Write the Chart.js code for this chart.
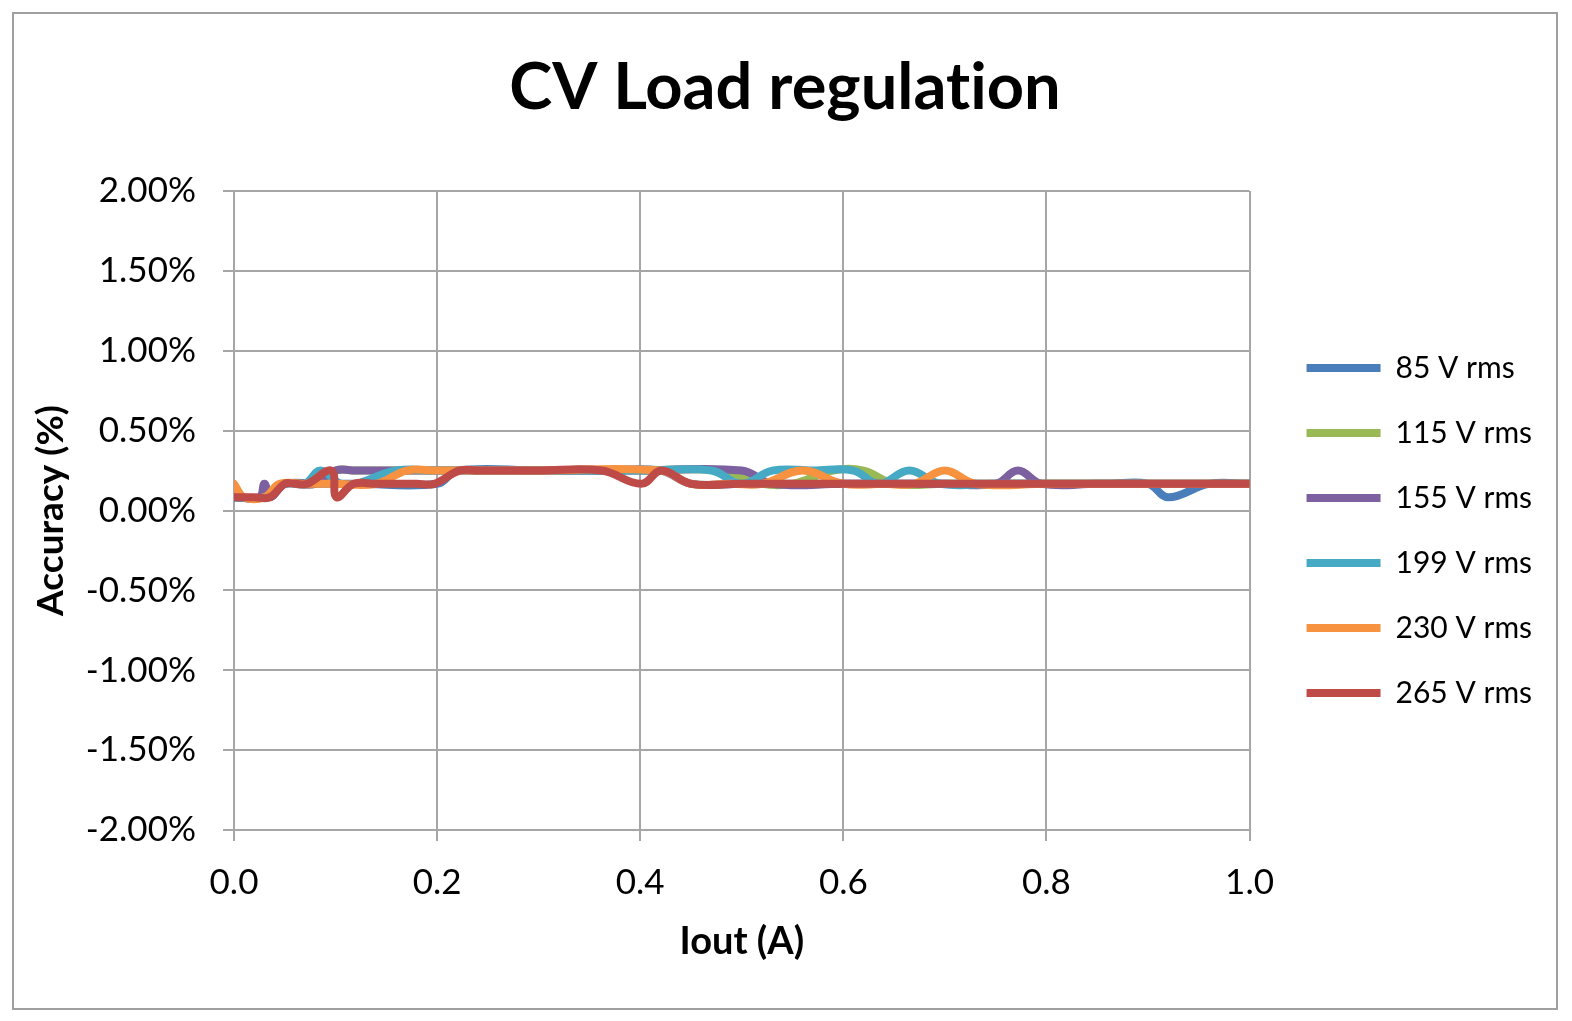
<!DOCTYPE html>
<html>
<head>
<meta charset="utf-8">
<script src="https://cdn.jsdelivr.net/npm/chart.js@4/dist/chart.umd.min.js"></script>
<style>
  body { margin: 0; background: #fff; }
  canvas { display: block; }
</style>
</head>
<body>
<canvas id="chart" width="1572" height="1021"></canvas>
<script>
// ===== DATA (accuracy in %, Iout in A) =====
const seriesNames = ['85 V rms', '115 V rms', '155 V rms', '199 V rms', '230 V rms', '265 V rms'];
const seriesColors = ['#4A7EBB', '#98B954', '#7D60A0', '#46AAC5', '#F69240', '#BE4B48'];

const iout85 = [0, 0.03, 0.05, 0.08, 0.1, 0.12, 0.2, 0.22, 0.3, 0.36, 0.42, 0.45, 0.5, 0.6, 0.7, 0.8, 0.86, 0.9, 0.92, 0.96, 1.0];
const acc85  = [0.083, 0.083, 0.167, 0.167, 0.167, 0.167, 0.167, 0.25, 0.25, 0.25, 0.25, 0.167, 0.167, 0.167, 0.167, 0.167, 0.167, 0.167, 0.083, 0.167, 0.167];

const iout115 = [0, 0.03, 0.05, 0.08, 0.1, 0.12, 0.2, 0.3, 0.4, 0.48, 0.52, 0.55, 0.59, 0.62, 0.65, 0.7, 0.8, 0.9, 1.0];
const acc115  = [0.083, 0.083, 0.167, 0.167, 0.25, 0.25, 0.25, 0.25, 0.25, 0.25, 0.167, 0.167, 0.25, 0.25, 0.167, 0.167, 0.167, 0.167, 0.167];

const iout155 = [0, 0.025, 0.03, 0.036, 0.05, 0.08, 0.1, 0.12, 0.2, 0.3, 0.4, 0.5, 0.53, 0.6, 0.7, 0.75, 0.772, 0.795, 0.85, 1.0];
const acc155  = [0.083, 0.083, 0.167, 0.083, 0.167, 0.167, 0.25, 0.25, 0.25, 0.25, 0.25, 0.25, 0.167, 0.167, 0.167, 0.167, 0.25, 0.167, 0.167, 0.167];

const iout199 = [0, 0.03, 0.05, 0.07, 0.085, 0.105, 0.12, 0.16, 0.2, 0.3, 0.4, 0.47, 0.5, 0.53, 0.57, 0.61, 0.635, 0.665, 0.695, 0.75, 0.85, 1.0];
const acc199  = [0.083, 0.083, 0.167, 0.167, 0.25, 0.167, 0.167, 0.25, 0.25, 0.25, 0.25, 0.25, 0.167, 0.25, 0.25, 0.25, 0.167, 0.25, 0.167, 0.167, 0.167, 0.167];

const iout230 = [0, 0.01, 0.03, 0.045, 0.07, 0.1, 0.14, 0.17, 0.2, 0.3, 0.42, 0.45, 0.49, 0.52, 0.56, 0.6, 0.64, 0.67, 0.7, 0.73, 0.8, 0.9, 1.0];
const acc230  = [0.167, 0.083, 0.083, 0.167, 0.167, 0.167, 0.167, 0.25, 0.25, 0.25, 0.25, 0.167, 0.167, 0.167, 0.25, 0.167, 0.167, 0.167, 0.25, 0.167, 0.167, 0.167, 0.167];

const iout265 = [0, 0.02, 0.035, 0.05, 0.06, 0.072, 0.096, 0.101, 0.118, 0.14, 0.18, 0.197, 0.222, 0.24, 0.3, 0.362, 0.401, 0.421, 0.45, 0.5, 0.6, 0.7, 0.8, 0.9, 1.0];
const acc265  = [0.083, 0.083, 0.083, 0.167, 0.167, 0.167, 0.25, 0.083, 0.167, 0.167, 0.167, 0.167, 0.25, 0.25, 0.25, 0.25, 0.167, 0.25, 0.167, 0.167, 0.167, 0.167, 0.167, 0.167, 0.167];

const seriesX = [iout85, iout115, iout155, iout199, iout230, iout265];
const seriesY = [acc85, acc115, acc155, acc199, acc230, acc265];

const FONT = 'Lato, "Open Sans", sans-serif';
const GRID = '#A6A6A6';

// white page + grey frame
const framePlugin = {
    id: 'frame',
    beforeDraw(chart) {
        const ctx = chart.ctx;
        ctx.fillStyle = '#fff';
        ctx.fillRect(0, 0, chart.width, chart.height);
        ctx.save();
        ctx.strokeStyle = '#A0A0A0';
        ctx.lineWidth = 2;
        ctx.strokeRect(13, 13, 1544, 996);
        ctx.restore();
        // tiny spacing keeps Lato from using its "ti" ligature
        ctx.letterSpacing = '0.01px';
    }
};

// nudge the legend and title to where Excel puts them
const boxShift = {
    id: 'boxShift',
    afterLayout(chart) {
        const lg = chart.legend;
        lg.left += 22; lg.right += 22;
        lg.top += 20; lg.bottom += 20;
        const tb = chart.titleBlock;
        tb.left += 18; tb.right += 18;
    }
};

const datasets = seriesNames.map((name, i) => ({
    label: name,
    data: seriesX[i].map((x, j) => ({ x: x, y: seriesY[i][j] })),
    borderColor: seriesColors[i],
    backgroundColor: seriesColors[i],
    borderWidth: 8,
    borderCapStyle: 'round',
    borderJoinStyle: 'round',
    pointRadius: 0,
    tension: 0.4,
    order: seriesNames.length - 1 - i   // last series on top, like Excel
}));

new Chart(document.getElementById('chart'), {
    type: 'line',
    data: { datasets: datasets },
    plugins: [framePlugin, boxShift],
    options: {
        responsive: false,
        animation: false,
        layout: { padding: { left: 14, top: 12, right: 52, bottom: 12 } },
        plugins: {
            title: {
                display: true,
                text: 'CV Load regulation',
                color: '#000',
                font: { family: FONT, size: 65, weight: 'bold' },
                padding: { top: 37, bottom: 64 }
            },
            legend: {
                position: 'right',
                labels: {
                    color: '#000',
                    font: { family: FONT, size: 30 },
                    usePointStyle: true,
                    pointStyle: 'line',
                    pointStyleWidth: 74,
                    padding: 35,
                    sort: (a, b) => a.datasetIndex - b.datasetIndex
                }
            },
            tooltip: { enabled: false }
        },
        scales: {
            x: {
                type: 'linear',
                min: 0, max: 1,
                afterFit: s => { s.height = 1021 - 12 - 830; },
                ticks: {
                    stepSize: 0.2,
                    color: '#000',
                    padding: 21,
                    font: { family: FONT, size: 35 },
                    callback: v => v.toFixed(1)
                },
                grid: { color: GRID, lineWidth: 2, tickLength: 11 },
                border: { color: GRID, width: 2 },
                title: {
                    display: true,
                    text: 'Iout (A)',
                    color: '#000',
                    font: { family: FONT, size: 38, weight: 'bold' },
                    padding: { top: 0, bottom: 44 }
                }
            },
            y: {
                min: -2, max: 2,
                afterFit: s => { s.width = 234 - 14; },
                ticks: {
                    stepSize: 0.5,
                    color: '#000',
                    padding: 27,
                    font: { family: FONT, size: 35 },
                    callback: v => v.toFixed(2) + '%'
                },
                grid: { color: GRID, lineWidth: 2, tickLength: 11 },
                border: { color: GRID, width: 2 },
                title: {
                    display: true,
                    text: 'Accuracy (%)',
                    color: '#000',
                    font: { family: FONT, size: 37, weight: 'bold' },
                    padding: { top: 15, bottom: 0 }
                }
            }
        }
    }
});
</script>
</body>
</html>
